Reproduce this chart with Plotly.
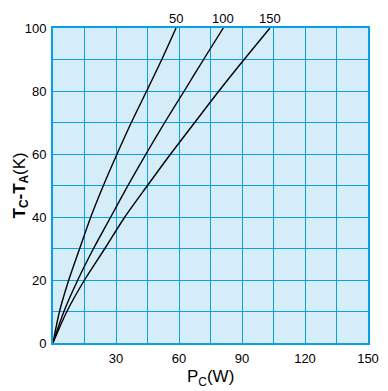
import plotly.graph_objects as go

temp_rise = [0, 10, 20, 30, 40, 50, 60, 70, 80, 90, 100]
power_50 = [0, 3.1, 7.5, 12.7, 18.0, 24.0, 30.5, 37.3, 44.6, 51.8, 58.6]
power_100 = [0, 5.2, 11.8, 19.3, 27.5, 35.7, 44.3, 53.2, 62.5, 71.7, 81.1]
power_150 = [0, 6.6, 15.0, 24.7, 34.2, 45.0, 56.0, 67.5, 79.0, 91.0, 103.3]
curve_labels = ["50", "100", "150"]

x_grid = list(range(0, 151, 15))
x_text = [str(v) if v % 30 == 0 and v > 0 else "" for v in x_grid]
y_grid = list(range(0, 101, 10))
y_text = [str(v) if v % 20 == 0 else "" for v in y_grid]

grid_col = "#0a9fe3"
font = "Liberation Sans"

fig = go.Figure()
for pw, lab in zip([power_50, power_100, power_150], curve_labels):
    fig.add_trace(go.Scatter(x=pw, y=temp_rise, mode="lines",
                             line=dict(color="black", width=1.4, shape="spline", smoothing=0.8),
                             showlegend=False, hoverinfo="skip"))
    fig.add_annotation(x=pw[-1], y=temp_rise[-1], text=lab, showarrow=False, yanchor="bottom", yshift=0,
                       font=dict(family=font, size=13, color="black"))

fig.add_annotation(xref="paper", yref="paper", x=0.5, y=0, yshift=-35, yanchor="middle", showarrow=False,
                   text="P<sub>C</sub>(W)", font=dict(family=font, size=17, color="black"))
fig.add_annotation(xref="paper", yref="paper", x=0, xshift=-33, y=0.5, textangle=-90, xanchor="center",
                   showarrow=False, text="<b>T<sub>C</sub>-T<sub>A</sub></b>(K)",
                   font=dict(family=font, size=17, color="black"))

# page body has an 8px default margin, so the figure is shrunk by 8px and the margins shifted
fig.update_layout(
    width=380, height=383,
    margin=dict(l=45, r=20, t=20, b=48, autoexpand=False),
    paper_bgcolor="white", plot_bgcolor="#d5ecf9",
    font=dict(family=font, size=13, color="black"),
)
fig.update_xaxes(range=[0, 150], tickvals=x_grid, ticktext=x_text, showgrid=True, gridcolor=grid_col, gridwidth=1,
                 showline=True, linecolor=grid_col, linewidth=2, mirror=True, ticks="", zeroline=False,
                 automargin=False, ticklabelstandoff=2)
fig.update_yaxes(range=[0, 100], tickvals=y_grid, ticktext=y_text, showgrid=True, gridcolor=grid_col, gridwidth=1,
                 showline=True, linecolor=grid_col, linewidth=2, mirror=True, ticks="", zeroline=False,
                 automargin=False, ticklabelstandoff=2)
fig.write_html("out.html")
